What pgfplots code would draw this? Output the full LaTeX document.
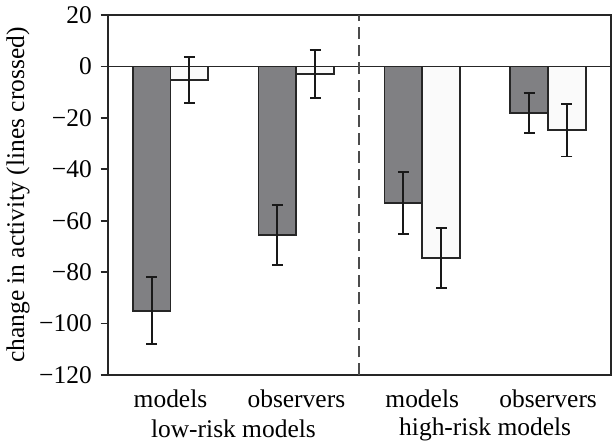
\documentclass[border=0pt]{standalone}
\usepackage{fontspec}
\setmainfont{Liberation Serif}
\usepackage{pgfplots}
\pgfplotsset{compat=1.18}
\definecolor{darkbar}{RGB}{128,128,131}
\definecolor{lightbar}{RGB}{250,250,250}
\begin{document}
\begin{tikzpicture}
\begin{axis}[
  scale only axis,
  width=256bp, height=183bp,
  xmin=-0.5, xmax=3.5, ymin=-120, ymax=20,
  ytick={-120,-100,-80,-60,-40,-20,0,20},
  yticklabels={−120,−100,−80,−60,−40,−20,0,20},
  xtick={0,1,2,3},
  xticklabels={models,observers,models,observers},
  x tick style={draw=none},
  ytick pos=left,
  tick align=outside,
  major tick length=3.5bp,
  axis line style={line width=1bp, black!85},
  y tick style={line width=0.9bp, black!85},
  ticklabel style={font=\fontsize{13}{15}\selectfont},
  yticklabel style={xshift=-1bp},
  xticklabel style={yshift=-0.5bp},
  ylabel={change in activity (lines crossed)},
  ylabel style={font=\fontsize{13}{15}\selectfont, yshift=-2bp},
  bar width=0.3,
  clip=false,
  error bars/error bar style={line width=1bp, black!90},
  error bars/error mark options={rotate=90, mark size=2.8bp, line width=1bp, black!90},
]
\draw[line width=0.6bp, black!85] (axis cs:-0.5,0) -- (axis cs:3.5,0);
\draw[line width=1bp, black!70, dash pattern=on 6bp off 3bp] (axis cs:1.5,-120) -- (axis cs:1.5,20);
\addplot[ybar, bar shift=0, fill=darkbar, draw=black!85, line width=0.9bp,
  error bars/.cd, y dir=both, y explicit]
  coordinates {(-0.15,-95) +- (0,13) (0.85,-65.5) +- (0,11.7) (1.85,-53) +- (0,12) (2.85,-18) +- (0,7.8)};
\addplot[ybar, bar shift=0, fill=lightbar, draw=black!85, line width=0.9bp,
  error bars/.cd, y dir=both, y explicit]
  coordinates {(0.15,-5.2) +- (0,8.8) (1.15,-2.9) +- (0,9.5) (2.15,-74.5) +- (0,11.8) (3.15,-24.8) +- (0,10.2)};
\node[font=\fontsize{13}{15}\selectfont] at (axis cs:0.5,-120) [yshift=-27.5bp] {low-risk models};
\node[font=\fontsize{13}{15}\selectfont] at (axis cs:2.5,-120) [yshift=-27.5bp] {high-risk models};
\end{axis}
\end{tikzpicture}
\end{document}
